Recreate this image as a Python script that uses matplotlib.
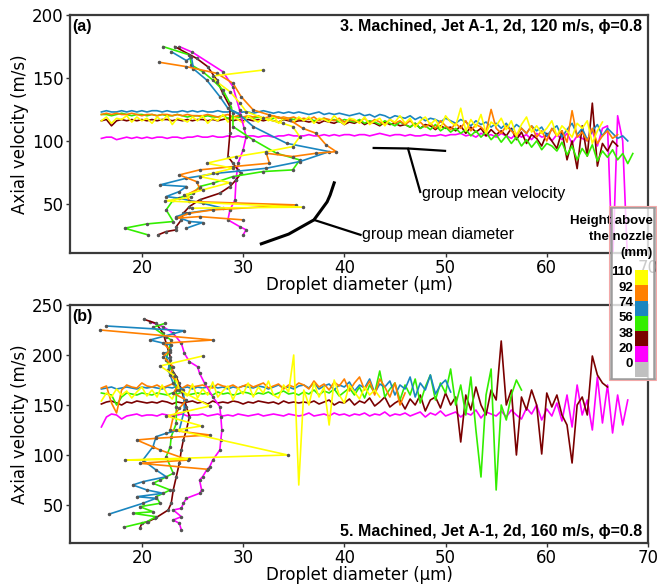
import numpy as np
import matplotlib
matplotlib.use('Agg')
import matplotlib.pyplot as plt
from matplotlib.patches import Rectangle

# colours per height above nozzle (mm)
heights = ['110', '92', '74', '56', '38', '20', '0']
colors = ['#ffff00', '#ff8000', '#1a86c0', '#33ee00', '#7a0000', '#ff00ff', '#c0c0c0']
col = dict(zip(heights, colors))

# diameter bins (um) of the group mean velocity lines
d_bins = [16, 16.5, 17, 17.5, 18, 18.5, 19, 19.5, 20, 20.5, 21, 21.5, 22, 22.5, 23, 23.5, 24, 24.5, 25, 25.5,
          26, 26.5, 27, 27.5, 28, 28.5, 29, 29.5, 30, 30.5, 31, 31.5, 32, 32.5, 33, 33.5, 34, 34.5, 35, 35.5,
          36, 36.5, 37, 37.5, 38, 38.5, 39, 39.5, 40, 40.5, 41, 41.5, 42, 42.5, 43, 43.5, 44, 44.5, 45, 45.5,
          46, 46.5, 47, 47.5, 48, 48.5, 49, 49.5, 50, 50.5, 51, 51.5, 52, 52.5, 53, 53.5, 54, 54.5, 55, 55.5,
          56, 56.5, 57, 57.5, 58, 58.5, 59, 59.5, 60, 60.5, 61, 61.5, 62, 62.5, 63, 63.5, 64, 64.5, 65, 65.5,
          66, 66.5, 67, 67.5, 68, 68.5]

# ---- (a) 120 m/s : group mean velocity vs diameter
vel_a = {
    '20': [102, 103, 103, 101, 102, 103, 102, 103, 102, 103, 102, 103, 103, 102, 103, 103, 102, 103, 103, 104,
           103, 103, 104, 103, 103, 104, 103, 104, 103, 104, 104, 103, 104, 104, 103, 104, 104, 105, 104, 104,
           104, 105, 104, 104, 105, 104, 105, 104, 105, 105, 104, 105, 105, 104, 105, 106, 105, 104, 105, 105,
           104, 105, 104, 104, 105, 104, 104, 105, 104, 105, 105, 106, 104, 105, 103, 106, 104, 105, 103, 106,
           104, 102, 106, 103, 105, 101, 106, 103, 104, 100, 105, 101, 106, 98, 104, 102, 100, 108, 96, 110,
           112, 0, 120, 100, 0],
    '38': [116, 117, 112, 116, 117, 116, 117, 116, 117, 116, 117, 116, 117, 117, 116, 117, 116, 117, 116, 117,
           117, 116, 117, 116, 117, 118, 116, 117, 116, 117, 116, 117, 116, 117, 116, 115, 117, 116, 115, 116,
           116, 115, 116, 114, 116, 115, 114, 116, 113, 115, 114, 116, 113, 115, 114, 112, 115, 113, 114, 112,
           113, 111, 114, 110, 113, 112, 109, 112, 110, 111, 108, 112, 106, 111, 107, 110, 104, 109, 105, 108,
           104, 110, 101, 107, 98, 105, 102, 96, 106, 100, 94, 108, 85, 100, 78, 112, 88, 130, 80, 98,
           92, 100, 96],
    '56': [121, 121, 120, 121, 122, 121, 120, 121, 121, 120, 121, 120, 121, 120, 120, 121, 120, 119, 120, 120,
           119, 120, 119, 119, 120, 118, 119, 119, 118, 119, 118, 119, 118, 117, 118, 119, 117, 118, 117, 118,
           117, 118, 116, 117, 118, 116, 117, 115, 117, 116, 115, 117, 114, 116, 115, 113, 116, 114, 112, 115,
           113, 111, 114, 110, 112, 109, 113, 108, 111, 107, 110, 106, 109, 104, 108, 103, 107, 101, 105, 99,
           104, 98, 103, 96, 101, 95, 100, 93, 98, 96, 92, 99, 89, 96, 85, 94, 88, 97, 84, 92,
           87, 93, 85, 90, 82, 90],
    '74': [123, 124, 123, 123, 124, 123, 124, 123, 124, 123, 124, 124, 123, 124, 123, 123, 124, 123, 124, 123,
           124, 123, 123, 124, 123, 123, 124, 122, 123, 123, 122, 123, 124, 123, 122, 123, 122, 123, 122, 123,
           122, 121, 122, 123, 121, 122, 121, 122, 121, 120, 121, 122, 120, 121, 119, 121, 120, 118, 120, 119,
           118, 120, 117, 119, 116, 118, 117, 115, 118, 116, 114, 117, 115, 112, 116, 113, 115, 111, 114, 110,
           114, 108, 113, 110, 106, 112, 108, 111, 104, 109, 112, 103, 109, 114, 105, 110, 101, 108, 113, 104,
           110, 106, 102, 104, 100],
    '92': [121, 122, 121, 122, 121, 121, 122, 121, 120, 121, 121, 120, 121, 121, 120, 121, 120, 121, 120, 120,
           120, 121, 120, 119, 120, 121, 119, 120, 119, 120, 119, 120, 118, 119, 120, 118, 119, 118, 119, 117,
           118, 117, 119, 116, 118, 117, 116, 118, 115, 117, 116, 115, 118, 114, 117, 115, 113, 117, 114, 116,
           113, 116, 112, 115, 111, 114, 110, 116, 112, 109, 114, 110, 116, 108, 113, 111, 107, 125, 110, 106,
           112, 108, 104, 110, 106, 112, 103, 108, 100, 110, 104, 108, 99, 124, 103, 107, 100, 110, 98, 104,
           108, 102, 105],
    '110': [116, 119, 114, 118, 117, 120, 115, 119, 116, 118, 114, 119, 116, 120, 113, 118, 117, 115, 119, 116,
            120, 114, 118, 116, 121, 115, 119, 117, 114, 120, 117, 115, 119, 116, 120, 114, 118, 117, 115, 119,
            116, 119, 114, 118, 117, 115, 120, 116, 113, 118, 117, 114, 119, 113, 116, 118, 112, 117, 115, 120,
            114, 118, 111, 116, 119, 113, 117, 110, 120, 115, 112, 126, 108, 117, 111, 121, 106, 115, 112, 118,
            109, 116, 104, 113, 119, 107, 112, 106, 110, 116, 104, 112, 108, 103, 114, 110, 116, 98, 108, 115],
}

# ---- (a) group mean diameter vs velocity (diameter, velocity)
dia_a = {
    '20': ([23.7, 25.0, 28.0, 29.0, 29.65, 30.1, 30.3, 30.0, 29.5, 29.3, 29.2, 28.7, 28.5, 29.65, 30.3, 30.0],
           [174.9, 170.4, 155.0, 143.1, 124.6, 110.0, 103.4, 92.9, 82.3, 69.0, 53.2, 45.2, 37.3, 32.0, 29.4, 25.4]),
    '38': ([23.25, 25.4, 26.5, 27.4, 28.0, 28.7, 28.7, 28.5, 29.0, 29.5, 29.8, 29.3, 28.7, 27.7, 25.7, 24.7,
            24.1, 23.9, 23.4, 23.4, 22.4, 21.6],
           [174.9, 165.6, 159.0, 148.4, 137.8, 127.2, 106.1, 87.6, 82.3, 77.0, 74.3, 69.0, 63.8, 58.5, 53.2, 47.9,
            42.6, 37.3, 32.0, 29.4, 28.0, 25.4]),
    '56': ([22.1, 24.7, 24.9, 26.0, 27.0, 28.0, 28.7, 29.0, 29.0, 31.0, 33.3, 35.6, 34.9, 32.0, 29.0, 27.0,
            25.7, 25.1, 23.1, 22.4, 23.1, 20.5, 18.3, 20.6],
           [174.9, 168.3, 160.3, 155.0, 148.4, 140.5, 129.9, 122.0, 111.4, 100.8, 90.2, 84.9, 77.0, 75.7, 71.7, 66.4,
            63.8, 58.5, 53.2, 45.2, 36.0, 34.1, 30.7, 25.4]),
    '74': ([22.9, 24.4, 24.9, 25.1, 26.4, 27.7, 28.5, 29.7, 31.0, 34.3, 38.5, 35.6, 32.3, 27.4, 24.4, 21.8,
            24.4, 23.7, 22.4, 23.7, 26.0, 28.0, 24.4, 23.4, 24.7, 26.0, 24.4],
           [170.9, 163.8, 166.4, 157.2, 148.4, 135.2, 125.9, 120.6, 111.4, 98.1, 91.5, 83.6, 78.3, 74.3, 70.4, 65.1,
            63.8, 59.8, 55.8, 54.5, 50.5, 46.6, 42.6, 39.9, 36.0, 35.2, 30.7]),
    '92': ([21.7, 24.4, 27.4, 29.0, 29.8, 31.0, 32.6, 34.6, 35.9, 37.2, 38.2, 39.2, 37.2, 34.9, 32.3, 32.6,
            29.0, 25.7, 23.7, 25.4, 25.7, 24.4, 24.7, 35.2, 27.0, 24.7, 23.4, 25.7, 30.0],
           [162.5, 159.0, 153.7, 145.8, 135.2, 124.6, 120.6, 116.7, 110.0, 106.1, 96.8, 91.5, 90.2, 87.6, 90.2, 82.3,
            79.6, 77.0, 73.0, 67.7, 62.4, 57.1, 51.9, 49.2, 45.2, 42.6, 38.6, 39.9, 37.3]),
    '110': ([32.0, 27.0, 27.4, 28.7, 29.7, 30.3, 32.0, 33.9, 34.9, 35.6, 34.9, 32.3, 29.3, 26.4, 29.0, 27.0,
             25.7, 28.7, 26.0, 24.2, 24.9, 22.3, 35.9, 25.0],
            [156.3, 151.5, 147.0, 139.1, 129.9, 123.3, 118.0, 114.0, 111.4, 103.4, 95.5, 91.5, 87.6, 82.3, 78.3, 74.3,
             71.7, 66.9, 61.1, 57.1, 55.3, 52.4, 47.4, 46.6]),
}

# ---- (b) 160 m/s : group mean velocity vs diameter
vel_b = {
    '20': [128, 138, 141, 140, 136, 139, 140, 141, 139, 140, 140, 139, 141, 140, 139, 140, 141, 139, 140, 140,
           141, 139, 140, 141, 139, 140, 139, 141, 140, 139, 140, 141, 139, 140, 141, 140, 139, 141, 140, 139,
           140, 142, 139, 140, 141, 139, 142, 140, 141, 139, 141, 140, 142, 139, 141, 140, 143, 139, 141, 140,
           142, 139, 141, 143, 138, 142, 140, 144, 139, 141, 143, 138, 142, 140, 145, 137, 143, 141, 139, 144,
           138, 145, 140, 136, 147, 141, 150, 135, 146, 139, 152, 134, 160, 128, 170, 140, 155, 125, 178, 132,
           170, 122, 160, 130, 155],
    '38': [151, 153, 154, 152, 150, 153, 152, 154, 153, 152, 153, 152, 154, 153, 151, 153, 152, 153, 154, 152,
           153, 151, 154, 152, 153, 152, 154, 153, 151, 153, 152, 154, 153, 152, 153, 151, 154, 152, 153, 152,
           153, 152, 154, 151, 153, 155, 150, 153, 152, 156, 150, 154, 152, 157, 149, 153, 158, 148, 152, 155,
           146, 156, 150, 160, 144, 155, 158, 147, 162, 150, 158, 113, 160, 145, 168, 150, 140, 165, 155, 214,
           150, 165, 100, 158, 145, 165, 150, 101, 162, 148, 160, 140, 130, 92, 150, 158, 140, 199, 180, 172,
           168],
    '56': [162, 161, 160, 150, 158, 162, 161, 160, 162, 161, 160, 162, 161, 160, 162, 161, 163, 160, 161, 162,
           161, 162, 160, 163, 161, 162, 160, 161, 163, 162, 160, 162, 161, 163, 160, 162, 164, 161, 162, 160,
           163, 161, 165, 160, 164, 162, 166, 159, 163, 167, 160, 168, 157, 170, 162, 184, 158, 166, 172, 155,
           170, 160, 176, 152, 168, 180, 155, 172, 162, 186, 150, 170, 140, 178, 125, 78, 160, 186, 65, 150,
           135, 160, 175, 165],
    '74': [166, 167, 168, 166, 167, 168, 167, 166, 168, 167, 168, 167, 166, 168, 167, 169, 167, 168, 166, 168,
           167, 168, 169, 167, 168, 166, 168, 167, 169, 168, 167, 169, 168, 166, 168, 170, 167, 168, 166, 169,
           170, 167, 172, 166, 169, 171, 165, 170, 168, 173, 164, 170, 167, 176, 162, 171, 168, 174, 160, 170,
           166, 178, 158, 172, 165, 180, 161, 170, 175, 163],
    '92': [167, 169, 152, 142, 165, 170, 168, 167, 172, 169, 168, 170, 167, 169, 171, 168, 167, 170, 168, 169,
           170, 168, 167, 171, 169, 168, 170, 167, 169, 171, 168, 170, 172, 167, 169, 171, 166, 170, 168, 172,
           170, 166, 174, 168, 171, 165, 173, 169, 176, 164, 172, 178, 165, 174, 160, 176, 168, 158, 172, 150,
           162],
    '110': [154, 162, 158, 166, 160, 164, 157, 163, 168, 159, 165, 158, 170, 161, 156, 167, 162, 159, 171, 157,
            166, 160, 173, 158, 164, 169, 155, 167, 161, 172, 158, 168, 162, 174, 160, 157, 170, 163, 200, 70,
            165, 150, 172, 158, 168, 130, 175, 160, 152, 170, 163, 156, 168, 160, 165, 158],
}

# ---- (b) group mean diameter vs velocity (diameter, velocity)
dia_b = {
    '20': ([20.8, 22.1, 23.1, 23.9, 24.2, 24.7, 25.5, 25.7, 26.2, 27.0, 27.7, 27.8, 27.9, 27.8, 27.7, 27.0,
            26.7, 26.4, 26.0, 25.7, 25.9, 25.7, 24.4, 24.1, 23.9, 23.1, 23.9, 23.1, 23.7, 23.9],
           [233.3, 228.3, 221.7, 211.7, 201.7, 193.3, 188.3, 181.7, 171.7, 158.3, 148.3, 138.3, 125.0, 115.0, 105.0, 95.0,
            88.3, 85.0, 78.3, 75.0, 65.0, 61.7, 56.7, 51.7, 46.7, 45.0, 38.3, 35.0, 31.7, 25.0]),
    '38': ([20.2, 21.4, 22.1, 22.4, 22.8, 22.8, 23.4, 23.9, 24.4, 24.7, 24.4, 24.1, 23.9, 23.7, 23.4, 23.1,
            22.9, 22.6, 21.3, 20.6, 20.0, 19.8],
           [235.7, 231.7, 221.7, 211.7, 198.3, 188.3, 178.3, 165.0, 148.3, 138.3, 125.0, 115.0, 105.0, 91.7, 78.3, 65.0,
            51.7, 45.0, 36.7, 33.3, 31.7, 26.7]),
    '56': ([22.3, 21.1, 22.4, 22.9, 22.4, 23.1, 23.4, 23.4, 23.4, 22.9, 22.8, 22.4, 23.1, 21.8, 21.1, 22.8,
            21.4, 21.8, 19.8, 21.1, 19.1, 21.4, 20.5, 18.2],
           [231.7, 227.7, 218.3, 215.0, 195.0, 181.7, 165.0, 148.3, 131.7, 118.3, 108.3, 98.3, 81.7, 75.0, 71.7, 65.0,
            58.3, 51.7, 48.3, 43.3, 41.7, 38.3, 33.3, 27.7]),
    '74': ([16.5, 24.2, 20.8, 22.9, 22.8, 22.1, 22.8, 22.6, 23.1, 24.1, 24.2, 23.7, 22.4, 21.4, 21.1, 20.1,
            21.4, 22.4, 20.1, 19.1, 20.5, 22.1, 19.5, 21.4, 20.1, 16.8],
           [229.0, 224.3, 215.0, 210.0, 203.3, 201.7, 195.0, 185.0, 171.7, 165.0, 145.0, 125.0, 121.7, 118.3, 108.3, 95.0,
            85.0, 78.3, 73.3, 70.0, 65.0, 61.7, 58.3, 56.7, 51.7, 41.0]),
    '92': ([15.9, 27.0, 22.1, 22.8, 22.1, 23.1, 22.8, 23.7, 23.1, 24.4, 23.7, 23.1, 22.8, 26.7, 21.4, 19.5,
            21.8, 24.6, 19.8, 26.5],
           [225.0, 215.0, 211.7, 205.0, 198.3, 188.3, 180.0, 171.7, 161.7, 155.0, 146.7, 138.3, 125.0, 120.0, 116.7, 115.0,
            105.0, 95.0, 91.7, 85.7]),
    '110': ([26.0, 21.8, 23.3, 23.7, 26.7, 22.4, 25.9, 23.4, 34.4, 18.3, 24.7],
            [199.0, 189.0, 179.0, 165.0, 149.0, 139.0, 129.0, 125.0, 100.0, 95.0, 95.7]),
}

order = ['20', '38', '56', '74', '92', '110']

tick_font = 12
fig = plt.figure(figsize=(6.57, 5.86), dpi=100)
ax_a = fig.add_axes([70/657, 1-253/586, 578/657, 238/586])
ax_b = fig.add_axes([70/657, 1-543/586, 578/657, 238/586])

for ax, vel, dia in [(ax_a, vel_a, dia_a), (ax_b, vel_b, dia_b)]:
    for h in order:
        v = vel[h]
        ax.plot(d_bins[:len(v)], v, color=col[h], lw=1.2, zorder=2)
    for h in order:
        dd, vv = dia[h]
        ax.plot(dd, vv, color=col[h], lw=1.2, marker='o', ms=1.5,
                mfc='#555555', mec='#555555', zorder=3)
    ax.set_xlim(12.9, 70)
    ax.set_xticks([20, 30, 40, 50, 60, 70])
    ax.set_xlabel('Droplet diameter (µm)', fontsize=tick_font, labelpad=-1)
    ax.set_ylabel('Axial velocity (m/s)', fontsize=tick_font, labelpad=2)
    ax.tick_params(labelsize=tick_font, length=3, width=1, color='#333333', pad=1.5)
    for s in ax.spines.values():
        s.set_color('#3a3a3a')
        s.set_linewidth(1.6)

ax_a.set_ylim(11, 200)
ax_a.set_yticks([50, 100, 150, 200])
ax_b.set_ylim(12, 250)
ax_b.set_yticks([50, 100, 150, 200, 250])

bold = dict(family=['Liberation Sans', 'DejaVu Sans'], fontweight='bold', fontsize=11.5)
ax_a.text(0.004, 0.985, '(a)', transform=ax_a.transAxes, ha='left', va='top', **bold)
ax_a.text(0.99, 0.985, '3. Machined, Jet A-1, 2d, 120 m/s, ϕ=0.8', transform=ax_a.transAxes,
          ha='right', va='top', **bold)
ax_b.text(0.004, 0.985, '(b)', transform=ax_b.transAxes, ha='left', va='top', **bold)
ax_b.text(0.99, 0.015, '5. Machined, Jet A-1, 2d, 160 m/s, ϕ=0.8', transform=ax_b.transAxes,
          ha='right', va='bottom', **bold)

# annotations in (a)
ann = dict(family=['Liberation Sans', 'DejaVu Sans'], fontsize=11.5)
ax_a.plot([42.9, 46.3, 49.95], [94.4, 94.0, 92.1], color='black', lw=1.6)
ax_a.plot([46.3, 47.5], [93.7, 59.5], color='black', lw=1.6)
ax_a.text(47.7, 58.5, 'group mean velocity', ha='left', va='center', **ann)
ax_a.plot([31.8, 34.5, 37.0, 38.3, 38.6, 39.0], [18.3, 26.0, 37.3, 51.6, 57.1, 66.7], color='black', lw=2.2)
ax_a.plot([37.0, 41.6], [37.3, 25.4], color='black', lw=1.6)
ax_a.text(41.7, 25.4, 'group mean diameter', ha='left', va='center', **ann)

# height legend
fig.patches.append(Rectangle((609/657, 1-380/586), 47/657, 174/586, transform=fig.transFigure,
                             fill=False, ec='#f3a8a8', lw=0.8, zorder=10))
lax = fig.add_axes([611/657, 1-379/586, 43/657, 172/586])
lax.set_xlim(611, 654)
lax.set_ylim(379, 207)
lax.set_facecolor((1, 1, 1, 0.8))
lax.set_xticks([])
lax.set_yticks([])
for s in lax.spines.values():
    s.set_color('#9c9c9c')
    s.set_linewidth(1.8)
lab = dict(family=['Liberation Sans', 'DejaVu Sans'], fontweight='bold', fontsize=9.5)
lax.text(653, 221, 'Height above', ha='right', va='center', clip_on=False, **lab)
lax.text(653, 237, 'the nozzle', ha='right', va='center', **lab)
lax.text(653, 253, '(mm)', ha='right', va='center', **lab)
for i, (h, c) in enumerate(zip(heights, colors)):
    top = 270 + 15.3 * i
    lax.add_patch(Rectangle((635, top), 13, 15.3, color=c, lw=0))
    lax.text(633, top + 2.5, h, ha='right', va='center', **lab)

fig.savefig('out.png', dpi=100)
